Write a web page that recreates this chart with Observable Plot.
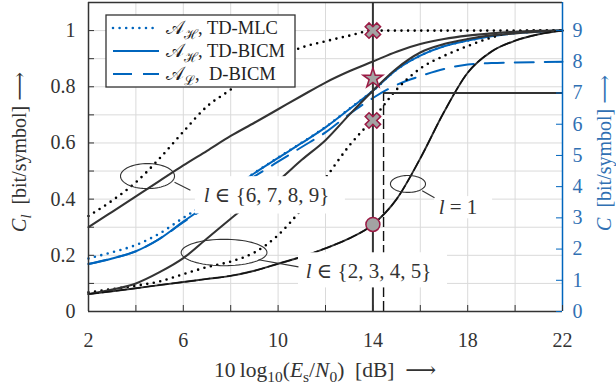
<!DOCTYPE html>
<html><head><meta charset="utf-8">
<script src="https://cdn.jsdelivr.net/npm/d3@7"></script>
<script src="https://cdn.jsdelivr.net/npm/@observablehq/plot@0.6"></script>
<style>
body{margin:0;background:#fff;}
#chart{width:616px;height:387px;}
svg{font-family:"Liberation Serif","DejaVu Serif",serif;}
</style></head><body><div id="chart"></div>
<script>
// ---------- data ----------
const snr = [2,3,4,5,6,7,8,9,10,11,12,13,14,15,16,17,18,19,20,21,22];
// per-level capacities C_l (left axis)
const lev1       = [0.062,0.072,0.083,0.094,0.105,0.116,0.127,0.145,0.170,0.195,0.225,0.260,0.310,0.400,0.545,0.710,0.850,0.925,0.964,0.987,1.000];
const lev25BICM  = [0.062,0.078,0.100,0.140,0.190,0.260,0.330,0.400,0.465,0.540,0.610,0.700,0.786,0.865,0.922,0.952,0.970,0.983,0.990,0.996,1.000];
const lev25MLC   = [0.068,0.080,0.092,0.107,0.133,0.158,0.178,0.210,0.272,0.365,0.475,0.590,0.685,0.790,0.865,0.910,0.945,0.975,0.995,1.000,1.000];
const lev69BICM  = [0.300,0.355,0.410,0.465,0.520,0.572,0.625,0.672,0.720,0.768,0.815,0.855,0.890,0.925,0.952,0.970,0.982,0.990,0.996,0.999,1.000];
const lev69MLC   = [0.340,0.395,0.460,0.545,0.640,0.730,0.790,0.855,0.905,0.940,0.962,0.982,1.000,1.000,1.000,1.000,1.000,1.000,1.000,1.000,1.000];
// total capacities C (right axis, bit/symbol)
const totMLC  = [1.70,1.90,2.13,2.50,3.00,3.47,3.95,4.44,4.93,5.41,5.91,6.49,7.07,7.75,8.20,8.50,8.68,8.82,8.92,8.97,9.00];
const totBICM = [1.52,1.70,1.93,2.33,2.88,3.40,3.92,4.43,4.92,5.40,5.90,6.48,7.07,7.75,8.20,8.50,8.68,8.82,8.92,8.97,9.00];
const totDBICM= [1.52,1.70,1.93,2.33,2.86,3.36,3.86,4.33,4.80,5.27,5.74,6.32,6.84,7.26,7.54,7.77,7.91,7.96,7.98,7.99,8.00];
const numLevels = 9;           // right axis max = 9 bit/symbol
// reference lines
const designSnr = 14, dbicmSnr = 14.45, targetRate = 7;
// markers
const markers = [
  {x:14, y:1.00, kind:"cross"},
  {x:14, y:0.68, kind:"cross"},
  {x:14, y:0.83, kind:"star"},
  {x:14, y:0.31, kind:"circle"}
];
// ticks
const xTicks = [2,4,6,8,10,12,14,16,18,20,22];
const xLabels = [2,6,10,14,18,22];
const yTicks = [0,0.1,0.2,0.3,0.4,0.5,0.6,0.7,0.8,0.9,1.0];
const yLabels = [0,0.2,0.4,0.6,0.8,1];
const rightTicks = [0,1,2,3,4,5,6,7,8,9];
const xDomain = [2,22], yDomain = [0,1.1];
// annotations (data units)
const ellipses = [
  {cx:4.49, cy:0.482, rx:1.14, ry:0.0445},
  {cx:7.72, cy:0.210, rx:1.81, ry:0.047},
  {cx:15.48, cy:0.454, rx:0.74, ry:0.030}
];
const leaders = [
  {x1:5.63, y1:0.460, x2:6.30, y2:0.432},
  {x1:9.17, y1:0.184, x2:10.86, y2:0.159},
  {x1:16.08, y1:0.430, x2:16.60, y2:0.405}
];
const boxes = [
  {x1:6.51, x2:12.84, y1:0.347, y2:0.480},
  {x1:10.86, x2:17.15, y1:0.084, y2:0.209},
  {x1:16.60, x2:19.05, y1:0.330, y2:0.409}
];
const labels = [
  {x:7.11, y:0.412, rest:" \u2208 {6, 7, 8, 9}"},
  {x:11.41, y:0.145, rest:" \u2208 {2, 3, 4, 5}"},
  {x:17.02, y:0.371, rest:" = 1"}
];

// ---------- helpers ----------
const series = arr => snr.map((x,i)=>({x, y: arr[i]}));
const seriesC = arr => snr.map((x,i)=>({x, y: arr[i]/numLevels}));
const ellipsePts = [];
ellipses.forEach((e,k)=>{ for(let t=0;t<=72;t++){const a=t/72*2*Math.PI; ellipsePts.push({k, x:e.cx+e.rx*Math.cos(a), y:e.cy+e.ry*Math.sin(a)});} });
const thickCross = {draw(ctx,size){const a=Math.sqrt(size/Math.PI), w=a*0.33, c=Math.SQRT1_2;
  const p=[[w,-a],[w,-w],[a,-w],[a,w],[w,w],[w,a],[-w,a],[-w,w],[-a,w],[-a,-w],[-w,-w],[-w,-a]];
  p.forEach(([x,y],i)=>{const X=(x-y)*c,Y=(x+y)*c; i?ctx.lineTo(X,Y):ctx.moveTo(X,Y);}); ctx.closePath();}};

const BLUE="#0065BD", DARK="#333333", GRID="#dadada", MK="#9b1b45", MKF="#a3a3a3";
const dotted = {strokeDasharray:"0 6.6", strokeLinecap:"round", strokeWidth:2.6};
const pw = 616-88-54, ph = 387-2-76;

const chart = Plot.plot({
  width:616, height:387, marginLeft:88, marginRight:54, marginTop:2, marginBottom:76,
  x:{domain:xDomain}, y:{domain:yDomain},
  style:{fontFamily:"Liberation Serif, DejaVu Serif, serif", background:"white", color:DARK},
  marks:[
    Plot.ruleX(xTicks, {stroke:GRID, strokeWidth:1}),
    Plot.ruleY(yTicks.filter(d=>d>0), {stroke:GRID, strokeWidth:1}),
    // blue totals
    Plot.line(seriesC(totDBICM), {x:"x", y:"y", stroke:BLUE, strokeWidth:2, strokeDasharray:"19 11", curve:"monotone-x"}),
    Plot.line(seriesC(totMLC), {x:"x", y:"y", stroke:BLUE, ...dotted, curve:"monotone-x"}),
    Plot.line(seriesC(totBICM), {x:"x", y:"y", stroke:BLUE, strokeWidth:2, curve:"monotone-x"}),
    // black per level
    Plot.line(series(lev69MLC), {x:"x", y:"y", stroke:"#000", ...dotted, curve:"monotone-x"}),
    Plot.line(series(lev25MLC), {x:"x", y:"y", stroke:"#000", ...dotted, curve:"monotone-x"}),
    Plot.line(series(lev69BICM), {x:"x", y:"y", stroke:DARK, strokeWidth:2.1, curve:"monotone-x"}),
    Plot.line(series(lev25BICM), {x:"x", y:"y", stroke:DARK, strokeWidth:2.1, curve:"monotone-x"}),
    Plot.line(series(lev1), {x:"x", y:"y", stroke:DARK, strokeWidth:1.9, curve:"monotone-x"}),
    Plot.line(series(lev1), {x:"x", y:"y", stroke:"#111", strokeWidth:1.5, strokeDasharray:"10 4", curve:"monotone-x"}),
    // reference lines
    Plot.ruleX([designSnr], {stroke:DARK, strokeWidth:2}),
    Plot.ruleX([dbicmSnr], {y1:0, y2:targetRate/numLevels, stroke:"#111", strokeWidth:1.4, strokeDasharray:"10 4"}),
    Plot.ruleY([targetRate/numLevels], {x1:dbicmSnr, x2:xDomain[1], stroke:DARK, strokeWidth:1.8}),
    // label boxes and texts
    Plot.rect(boxes, {x1:"x1", x2:"x2", y1:"y1", y2:"y2", fill:"white"}),
    Plot.text(labels, {x:"x", y:"y", text:()=>"l", textAnchor:"end", fontStyle:"italic", fontSize:21, fill:DARK}),
    Plot.text(labels, {x:"x", y:"y", text:"rest", textAnchor:"start", fontSize:21, fill:DARK}),
    Plot.line(ellipsePts, {x:"x", y:"y", z:"k", stroke:DARK, strokeWidth:1.1}),
    Plot.link(leaders, {x1:"x1", y1:"y1", x2:"x2", y2:"y2", stroke:DARK, strokeWidth:1.1}),
    // markers
    Plot.dot(markers.filter(d=>d.kind==="cross"), {x:"x", y:"y", symbol:thickCross, r:8.2, fill:MKF, stroke:MK, strokeWidth:1.5}),
    Plot.dot(markers.filter(d=>d.kind==="star"), {x:"x", y:"y", symbol:"star", r:6.2, fill:MKF, stroke:MK, strokeWidth:1.5}),
    Plot.dot(markers.filter(d=>d.kind==="circle"), {x:"x", y:"y", r:7, fill:MKF, stroke:MK, strokeWidth:1.5}),
    // frame
    Plot.ruleY([yDomain[0]], {stroke:DARK, strokeWidth:1.5}),
    Plot.ruleY([yDomain[1]], {stroke:DARK, strokeWidth:1.5}),
    Plot.ruleX([xDomain[0]], {stroke:DARK, strokeWidth:1.5}),
    Plot.ruleX([xDomain[1]], {stroke:BLUE, strokeWidth:1.5}),
    // inner ticks
    Plot.tickX(xTicks, {x:d=>d, stroke:DARK, insetTop:ph-6}),
    Plot.tickY(yTicks, {y:d=>d, stroke:DARK, insetRight:pw-6}),
    Plot.tickY(rightTicks.map(k=>k/numLevels), {y:d=>d, stroke:BLUE, insetLeft:pw-6}),
    // axes labels
    Plot.axisX(xLabels, {anchor:"bottom", tickSize:0, tickPadding:21, fontSize:20, label:null, color:DARK}),
    Plot.axisY(yLabels, {anchor:"left", tickSize:0, tickPadding:13, fontSize:20, label:null, color:DARK, tickFormat:d3.format("~g")}),
    Plot.axisY(rightTicks.map(k=>k/numLevels), {anchor:"right", tickSize:0, tickPadding:10, fontSize:20, label:null, color:"#3070B3", tickFormat:d=>String(Math.round(d*numLevels))})
  ]
});
document.getElementById("chart").appendChild(chart);

// ---------- axis titles and legend (text with sub-/italic parts) ----------
const svg = d3.select(chart);
const ff = "Liberation Serif, DejaVu Serif, serif";
function rich(g, parts){
  const t = g.append("text").attr("font-family", ff);
  let shifted = false;
  parts.forEach(p=>{
    const s = t.append("tspan").text(p.t);
    if(p.i) s.attr("font-style","italic");
    if(p.sub && !shifted){ s.attr("dy",5).attr("font-size","0.72em"); shifted=true; }
    else if(!p.sub && shifted){ s.attr("dy",-5); shifted=false; }
    else if(p.sub) s.attr("font-size","0.72em");
  });
  return t;
}
// x title
rich(svg.append("g").attr("transform","translate(325,377)"),
  [{t:"10\u2009log"},{t:"10",sub:1},{t:"("},{t:"E",i:1},{t:"s",sub:1},{t:"/"},{t:"N",i:1},{t:"0",sub:1},{t:")\u2002[dB]\u2002\u27F6"}])
  .attr("text-anchor","middle").attr("font-size",21.5).attr("fill",DARK);
// left title
rich(svg.append("g").attr("transform","translate(26,152) rotate(-90)"),
  [{t:"C",i:1},{t:"l",i:1,sub:1},{t:"  [bit/symbol] \u27F6"}])
  .attr("text-anchor","middle").attr("font-size",20).attr("fill",DARK);
// right title
rich(svg.append("g").attr("transform","translate(611,153) rotate(-90)"),
  [{t:"C",i:1},{t:"  [bit/symbol] \u27F6"}])
  .attr("text-anchor","middle").attr("font-size",20).attr("fill","#3070B3");
// legend
const lg = svg.append("g").attr("transform","translate(106,15)");
lg.append("rect").attr("width",189).attr("height",72).attr("fill","white").attr("stroke",DARK).attr("stroke-width",1.3);
const entries = [
  {dash:"0 6.6", cap:"round", w:2.6, sub:"\u210B", txt:", TD-MLC"},
  {dash:null, cap:"butt", w:2, sub:"\u210B", txt:", TD-BICM"},
  {dash:"19 11", cap:"butt", w:2, sub:"\u2112", txt:",  D-BICM"}
];
entries.forEach((e,i)=>{
  const y = 13 + i*23;
  const ln = lg.append("line").attr("x1",7).attr("x2",53).attr("y1",y).attr("y2",y)
    .attr("stroke",BLUE).attr("stroke-width",e.w).attr("stroke-linecap",e.cap);
  if(e.dash) ln.attr("stroke-dasharray",e.dash);
  rich(lg.append("g").attr("transform",`translate(60,${y+6})`),
    [{t:"\uD835\uDC9C"},{t:e.sub,sub:1},{t:e.txt}]).attr("text-anchor","start").attr("font-size",18.5).attr("fill","#222");
});
</script>
</body></html>
